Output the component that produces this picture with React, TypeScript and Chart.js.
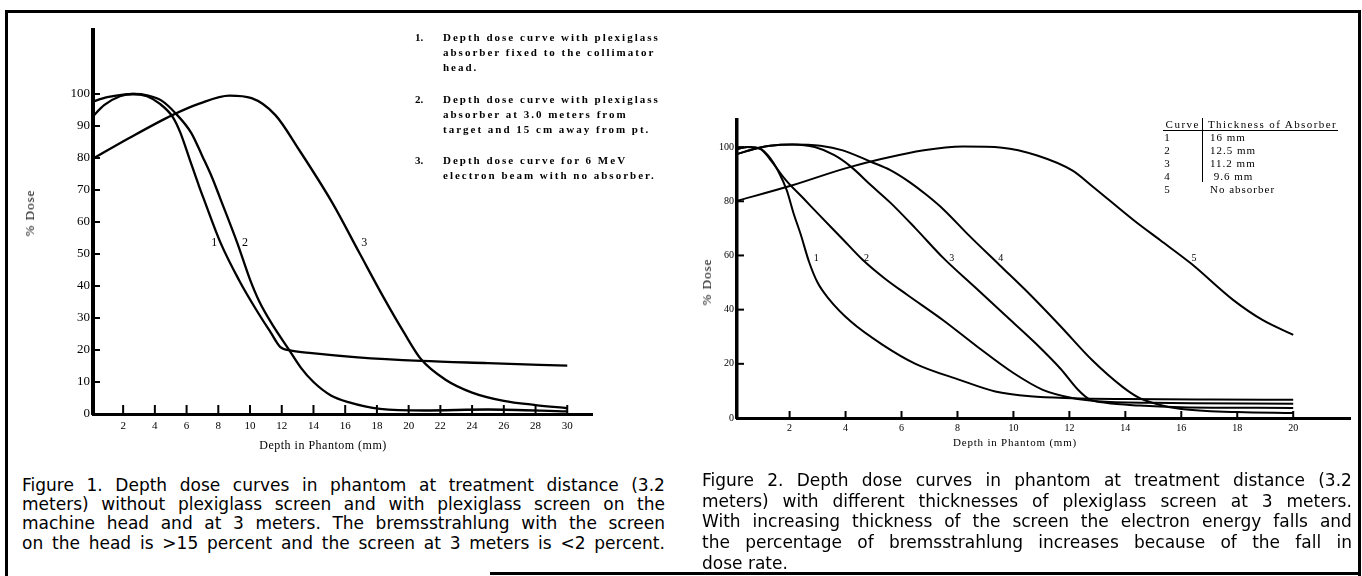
import React, { useEffect, useRef } from 'react';
import { Chart, registerables } from 'chart.js';
Chart.register(...registerables);

// ---------- Figure 1 data (depth mm, % dose) ----------
const fig1Curve1X = [0, 0.8, 1.8, 2.6, 3.5, 4.3, 5.1, 5.6, 6.2, 6.8, 7.1, 8.15, 9.3, 10.4, 11.3, 11.9, 12.6, 13.9, 16.8, 20.8, 25, 30];
const fig1Curve1Y = [92.5, 96.5, 99.3, 100, 99.3, 97, 93, 88, 79.5, 71, 67, 53.4, 41.9, 32.5, 25.5, 21, 19.8, 19, 17.7, 16.6, 15.9, 15.1];
const fig1Curve2X = [0, 1, 2, 2.7, 3.5, 4.4, 5.3, 6.3, 7.0, 7.6, 8.15, 9.2, 10.0, 10.6, 11.4, 12.4, 13.2, 14.0, 15.1, 16.2, 18.2, 21, 25, 30];
const fig1Curve2Y = [97.5, 99, 99.8, 100, 99.6, 98, 94, 87.8, 80.5, 74, 67, 53.4, 42, 35, 28, 20.5, 14.5, 10, 5.8, 3.7, 1.6, 1.1, 1.4, 0.8];
const fig1Curve3X = [0, 2.3, 5.1, 6.8, 8.7, 10.1, 11.6, 13.1, 15.2, 16.9, 18.4, 19.7, 20.8, 22.3, 24.0, 26.0, 28, 30];
const fig1Curve3Y = [79.5, 86, 93.4, 97, 99.5, 98.7, 93.4, 82.5, 65.9, 50.3, 36.6, 25.5, 17, 10.8, 6.7, 4.1, 2.8, 1.8];
const fig1XTicks = [2, 4, 6, 8, 10, 12, 14, 16, 18, 20, 22, 24, 26, 28, 30];
const fig1YTicks = [0, 10, 20, 30, 40, 50, 60, 70, 80, 90, 100];
const fig1CurveNames = ['1', '2', '3'];
const fig1NameX = [7.75, 9.68, 17.2];
const fig1NameY = [53.4, 53.4, 53.4];
const fig1Notes = [
  ['1.', 'Depth dose curve with plexiglass', 'absorber fixed to the collimator', 'head.'],
  ['2.', 'Depth dose curve with plexiglass', 'absorber at 3.0 meters from', 'target and 15 cm away from pt.'],
  ['3.', 'Depth dose curve for 6 MeV', 'electron beam with no absorber.'],
];
const fig1Caption = [
  'Figure 1. Depth dose curves in phantom at treatment distance (3.2',
  'meters) without plexiglass screen and with plexiglass screen on the',
  'machine head and at 3 meters. The bremsstrahlung with the screen',
  'on the head is >15 percent and the screen at 3 meters is <2 percent.',
];

// ---------- Figure 2 data (depth mm, % dose) ----------
const fig2Curve1X = [0, 0.5, 0.95, 1.3, 1.6, 1.9, 2.14, 2.39, 2.7, 3.0, 3.4, 4.2, 5.3, 6.5, 8.1, 9.35, 10.6, 12.1, 14, 17, 20];
const fig2Curve1Y = [99, 100, 99.4, 96, 91, 84, 75.6, 68, 57.5, 50, 44, 35.5, 27.2, 20, 14, 9.8, 8, 7.3, 7, 6.8, 6.7];
const fig2Curve2X = [0, 0.5, 0.95, 1.3, 1.85, 2.5, 3.1, 3.9, 4.6, 5.4, 6.2, 7.5, 8.7, 10.0, 11.05, 12.1, 13, 15, 20];
const fig2Curve2Y = [99, 100, 99.4, 95.5, 88, 81, 74.5, 66, 58.5, 51.5, 45.5, 36, 26.4, 16.6, 10.4, 7.4, 6.2, 5.6, 5.3];
const fig2Curve3X = [0, 0.7, 1.3, 2.1, 2.9, 3.6, 4.2, 4.9, 5.6, 6.5, 7.5, 8.6, 9.7, 10.8, 11.7, 12.3, 12.7, 13.3, 14.5, 16, 20];
const fig2Curve3Y = [97, 99.2, 100.5, 101, 100, 97, 92.7, 86, 79.5, 70, 59, 48.5, 38, 27.5, 18, 10.5, 7, 5.6, 4.6, 4, 3.7];
const fig2Curve4X = [0, 0.7, 1.3, 2.1, 3.1, 3.9, 4.9, 5.6, 6.3, 6.9, 7.5, 8.4, 9.5, 10.6, 11.7, 12.8, 13.9, 14.5, 15.1, 16, 18, 20];
const fig2Curve4Y = [97, 99.2, 100.5, 101, 100.5, 98.8, 94.6, 91.5, 87, 82.3, 77, 67.5, 56.5, 45.5, 33.7, 21.5, 11.5, 7.4, 5.2, 3.3, 2.2, 1.8];
const fig2Curve5X = [0, 2.1, 4.15, 6.8, 8.2, 9.6, 10.85, 12.1, 12.85, 14.3, 15.25, 16.35, 17.85, 18.9, 20];
const fig2Curve5Y = [79.8, 85.9, 92.6, 98.8, 100.2, 99.8, 96.9, 91.4, 85.3, 73, 65.6, 57, 43.6, 36.2, 30.7];
const fig2XTicks = [2, 4, 6, 8, 10, 12, 14, 16, 18, 20];
const fig2YTicks = [0, 20, 40, 60, 80, 100];
const fig2CurveNames = ['1', '2', '3', '4', '5'];
const fig2NameX = [2.95, 4.75, 7.8, 9.55, 16.45];
const fig2NameY = [59, 59, 59, 59, 59];
const fig2TableCurves = ['1', '2', '3', '4', '5'];
const fig2TableThickness = ['16 mm', '12.5 mm', '11.2 mm', '\u00a09.6 mm', 'No absorber'];
const fig2Caption = [
  'Figure 2. Depth dose curves in phantom at treatment distance (3.2',
  'meters) with different thicknesses of plexiglass screen at 3 meters.',
  'With increasing thickness of the screen the electron energy falls and',
  'the percentage of bremsstrahlung increases because of the fall in',
  'dose rate.',
];

const SERIF = "'Liberation Serif', 'Times New Roman', serif";
const SANS = "'DejaVu Sans', sans-serif";

const pts = (xs: number[], ys: number[]) => xs.map((x, i) => ({ x, y: ys[i] }));

function decorPlugin(cfg: any) {
  return {
    id: 'decor',
    afterDatasetsDraw(chart: any) {
      const { ctx } = chart;
      const x = chart.scales.x;
      const y = chart.scales.y;
      ctx.save();
      ctx.strokeStyle = '#000';
      ctx.lineWidth = cfg.tickWidth;
      cfg.xTicks.forEach((v: number) => {
        const px = x.getPixelForValue(v);
        ctx.beginPath();
        ctx.moveTo(px, y.bottom);
        ctx.lineTo(px, y.bottom - cfg.xTickLen);
        ctx.stroke();
      });
      cfg.yTicks.forEach((v: number) => {
        if (v === 0) return;
        const py = y.getPixelForValue(v);
        ctx.beginPath();
        ctx.moveTo(x.left, py);
        ctx.lineTo(x.left + cfg.yTickLen, py);
        ctx.stroke();
      });
      ctx.fillStyle = '#000';
      ctx.font = cfg.labelFont;
      ctx.textAlign = 'center';
      ctx.textBaseline = 'middle';
      cfg.names.forEach((t: string, i: number) => {
        ctx.fillText(t, x.getPixelForValue(cfg.nameX[i]), y.getPixelForValue(cfg.nameY[i]));
      });
      ctx.restore();
    },
  };
}

function makeConfig(o: any): any {
  return {
    type: 'line',
    data: {
      datasets: o.series.map((s: any) => ({
        data: s,
        borderColor: '#000',
        borderWidth: o.lineWidth,
        pointRadius: 0,
        fill: false,
        cubicInterpolationMode: 'monotone',
      })),
    },
    options: {
      animation: false,
      responsive: false,
      maintainAspectRatio: false,
      layout: { padding: o.padding },
      plugins: { legend: { display: false }, tooltip: { enabled: false }, title: { display: false } },
      scales: {
        x: {
          type: 'linear',
          min: o.xMin,
          max: o.xMax,
          afterBuildTicks: (s: any) => { s.ticks = o.xTicks.map((v: number) => ({ value: v })); },
          afterFit: (s: any) => { s.height = o.xHeight; },
          grid: { display: false, drawTicks: false },
          border: { display: true, width: o.xBorder, color: '#000' },
          ticks: { padding: o.xPad, color: '#000', font: { family: SERIF, size: o.xFont }, maxRotation: 0, autoSkip: false },
        },
        y: {
          type: 'linear',
          min: 0,
          max: o.yMax,
          afterBuildTicks: (s: any) => { s.ticks = o.yTicks.map((v: number) => ({ value: v })); },
          afterFit: (s: any) => { s.width = o.yWidth; },
          grid: { display: false, drawTicks: false },
          border: { display: true, width: o.yBorder, color: '#000' },
          ticks: { padding: o.yPad, color: '#000', font: { family: SERIF, size: o.yFont }, autoSkip: false },
        },
      },
    },
    plugins: [decorPlugin(o.decor)],
  };
}

const abs = (left: number, top: number, extra: any = {}) => ({ position: 'absolute' as const, left, top, ...extra });

function JustLine({ text, left, top, width, lh, font, justify }: any) {
  const words = text.split(' ');
  return (
    <div style={abs(left, top, { width, height: lh, lineHeight: lh + 'px', display: 'flex', justifyContent: justify ? 'space-between' : 'flex-start', whiteSpace: 'nowrap', font, color: '#000' })}>
      {justify ? words.map((w: string, i: number) => <span key={i}>{w}</span>) : <span>{text}</span>}
    </div>
  );
}

export default function App() {
  const ref1 = useRef<HTMLCanvasElement>(null);
  const ref2 = useRef<HTMLCanvasElement>(null);

  useEffect(() => {
    const c1 = new Chart(ref1.current as HTMLCanvasElement, makeConfig({
      series: [pts(fig1Curve1X, fig1Curve1Y), pts(fig1Curve2X, fig1Curve2Y), pts(fig1Curve3X, fig1Curve3Y)],
      lineWidth: 2.3,
      padding: { left: 0, top: 30, right: 108, bottom: 16 },
      xMin: 0.1, xMax: 31.56, yMax: 120,
      xTicks: fig1XTicks, yTicks: fig1YTicks,
      xHeight: 30, yWidth: 93,
      xBorder: 3, yBorder: 4,
      xPad: 6, yPad: 3,
      xFont: 11, yFont: 13,
      decor: { xTicks: fig1XTicks, yTicks: fig1YTicks, xTickLen: 9, yTickLen: 7, tickWidth: 2, names: fig1CurveNames, nameX: fig1NameX, nameY: fig1NameY, labelFont: `12px ${SERIF}` },
    }));
    const c2 = new Chart(ref2.current as HTMLCanvasElement, makeConfig({
      series: [pts(fig2Curve1X, fig2Curve1Y), pts(fig2Curve2X, fig2Curve2Y), pts(fig2Curve3X, fig2Curve3Y), pts(fig2Curve4X, fig2Curve4Y), pts(fig2Curve5X, fig2Curve5Y)],
      lineWidth: 2,
      padding: { left: 0, top: 30, right: 12, bottom: 18 },
      xMin: 0.12, xMax: 22.03, yMax: 110,
      xTicks: fig2XTicks, yTicks: fig2YTicks,
      xHeight: 24, yWidth: 47,
      xBorder: 3, yBorder: 3.5,
      xPad: 4, yPad: 3,
      xFont: 10, yFont: 10,
      decor: { xTicks: fig2XTicks, yTicks: fig2YTicks, xTickLen: 7, yTickLen: 7, tickWidth: 2, names: fig2CurveNames, nameX: fig2NameX, nameY: fig2NameY, labelFont: `10px ${SERIF}` },
    }));
    return () => { c1.destroy(); c2.destroy(); };
  }, []);

  const noteFont = `11px ${SERIF}`;
  const noteTops = [30, 92, 153];
  const tableFont = `11px ${SERIF}`;
  const rowY = [137, 150, 163, 176, 189];

  return (
    <div style={abs(0, 0, { width: 1362, height: 576, background: '#fff', overflow: 'hidden' })}>
      {/* frame */}
      <div style={abs(5, 10, { width: 1356, height: 3, background: '#000' })} />
      <div style={abs(5, 10, { width: 3, height: 566, background: '#000' })} />
      <div style={abs(1358, 10, { width: 3, height: 566, background: '#000' })} />
      <div style={abs(490, 572, { width: 871, height: 3, background: '#000' })} />

      <canvas ref={ref1} width={700} height={460} style={abs(0, 0, { width: 700, height: 460 })} />
      <canvas ref={ref2} width={672} height={370} style={abs(690, 90, { width: 672, height: 370 })} />

      {/* Figure 1 axis titles */}
      <div style={abs(30, 213, { transform: 'translate(-50%,-50%) rotate(-90deg)', font: `13px ${SERIF}`, letterSpacing: '1px', whiteSpace: 'nowrap' })}>% Dose</div>
      <div style={abs(323, 445, { transform: 'translate(-50%,-50%)', font: `12px ${SERIF}`, letterSpacing: '0.5px', whiteSpace: 'nowrap' })}>Depth in Phantom (mm)</div>

      {/* Figure 1 notes */}
      {fig1Notes.map((item, i) => (
        <div key={i}>
          <div style={abs(415, noteTops[i], { font: noteFont, fontWeight: 'bold', lineHeight: '15px' })}>{item[0]}</div>
          {item.slice(1).map((ln, j) => (
            <div key={j} style={abs(443, noteTops[i] + j * 15, { font: noteFont, fontWeight: 'bold', letterSpacing: '2px', lineHeight: '15px', whiteSpace: 'nowrap' })}>{ln}</div>
          ))}
        </div>
      ))}

      {/* Figure 2 axis titles */}
      <div style={abs(707, 282, { transform: 'translate(-50%,-50%) rotate(-90deg)', font: `13px ${SERIF}`, letterSpacing: '1px', whiteSpace: 'nowrap' })}>% Dose</div>
      <div style={abs(1015, 442, { transform: 'translate(-50%,-50%)', font: `11px ${SERIF}`, letterSpacing: '0.8px', whiteSpace: 'nowrap' })}>Depth in Phantom (mm)</div>

      {/* Figure 2 table */}
      <div style={abs(1200, 124, { transform: 'translate(-100%,-50%)', font: tableFont, letterSpacing: '1.5px', whiteSpace: 'nowrap' })}>Curve</div>
      <div style={abs(1208, 124, { transform: 'translateY(-50%)', font: tableFont, letterSpacing: '1.4px', whiteSpace: 'nowrap' })}>Thickness of Absorber</div>
      <div style={abs(1163, 130, { width: 175, height: 1, background: '#000' })} />
      <div style={abs(1202, 118, { width: 1, height: 64, background: '#000' })} />
      {fig2TableCurves.map((c, i) => (
        <div key={'c' + i} style={abs(1167, rowY[i], { transform: 'translate(-50%,-50%)', font: tableFont, whiteSpace: 'nowrap' })}>{c}</div>
      ))}
      {fig2TableThickness.map((t, i) => (
        <div key={'t' + i} style={abs(1210, rowY[i], { transform: 'translateY(-50%)', font: tableFont, letterSpacing: '1px', whiteSpace: 'pre' })}>{t}</div>
      ))}

      {/* captions */}
      {fig1Caption.map((ln, i) => (
        <JustLine key={'a' + i} text={ln} left={22} top={485 + i * 19.2 - 10} width={643} lh={20} font={`17px ${SANS}`} justify={true} />
      ))}
      {fig2Caption.map((ln, i) => (
        <JustLine key={'b' + i} text={ln} left={702} top={480 + i * 20.7 - 10} width={650} lh={20} font={`17px ${SANS}`} justify={i < fig2Caption.length - 1} />
      ))}
    </div>
  );
}
